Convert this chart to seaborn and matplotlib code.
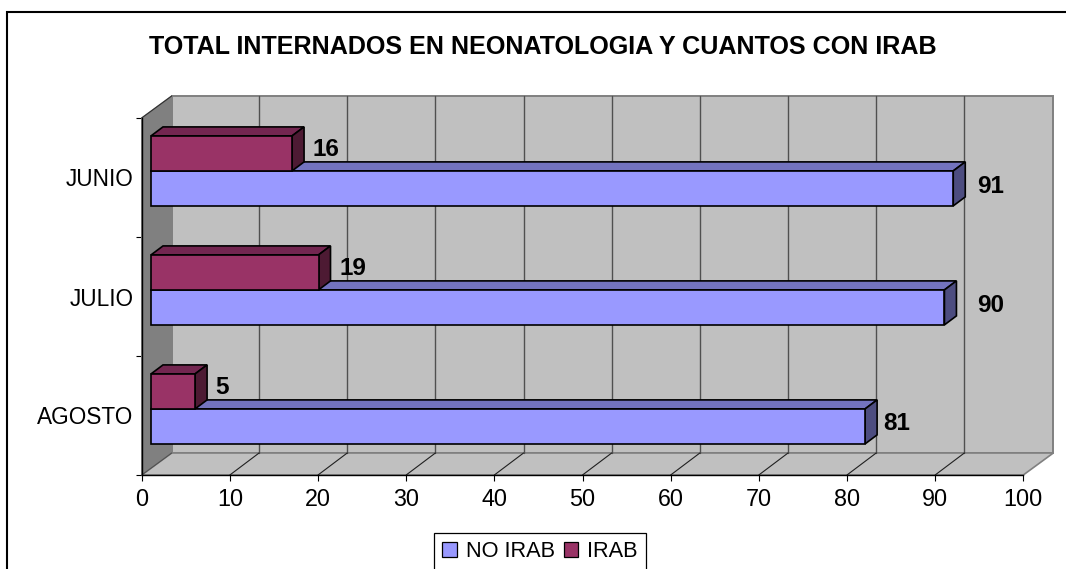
import matplotlib
matplotlib.use("Agg")
import matplotlib.pyplot as plt
from matplotlib.patches import Polygon, Patch, Rectangle
from matplotlib.transforms import Affine2D
import pandas as pd
import seaborn as sns

months = ["JUNIO", "JULIO", "AGOSTO"]
no_irab = [91, 90, 81]
irab = [16, 19, 5]
title = "TOTAL INTERNADOS EN NEONATOLOGIA Y CUANTOS CON IRAB"

df = pd.DataFrame({
    "mes": months * 2,
    "serie": ["IRAB"] * 3 + ["NO IRAB"] * 3,
    "valor": irab + no_irab,
})

W, H = 1066, 569
sns.set_theme(style="white")
plt.rcParams["font.family"] = ["Liberation Sans", "DejaVu Sans"]
FS = 15.7
TICK_FS = 16.8
YTICK_FS = 16.3
VAL_FS = 17.5

fig = plt.figure(figsize=(W / 100, H / 100), dpi=100, facecolor="white")
L, R, T, B = 141.7, 1023.3, 118, 475
ax = fig.add_axes([L / W, 1 - B / H, (R - L) / W, (B - T) / H])
colors = {"NO IRAB": "#9999FF", "IRAB": "#993366"}
top_c = {"NO IRAB": "#7373BF", "IRAB": "#732650"}
side_c = {"NO IRAB": "#4D4D80", "IRAB": "#4D1A33"}

sns.barplot(data=df, y="mes", x="valor", hue="serie", order=months,
            hue_order=["IRAB", "NO IRAB"], palette=colors, width=0.588,
            saturation=1, legend=False, ax=ax, edgecolor="black", linewidth=1.2)
ax.set_xlim(0, 100)
ax.set_ylim(2.5, -0.5)
ax.patch.set_visible(False)
ax.set_xlabel("")
ax.set_ylabel("")

# pixel -> data scale for the oblique projection
ux = (R - L) / 100
uy = (B - T) / 3
DX, DY = 30 / ux, 22 / uy          # full depth of the box
GX = 29.2 / ux                     # gridline depth
SX, SY = 9.3 / ux, 6.6 / uy        # bar front plane inside the box
BX, BY = 12 / ux, 9 / uy           # bar depth

x0, x1 = 0, 100
yb, yt = 2.5, -0.5

def poly(pts, fc, ec, z, lw=1.0):
    ax.add_patch(Polygon(pts, closed=True, facecolor=fc, edgecolor=ec, lw=lw,
                         zorder=z, clip_on=False))

# walls and floor
poly([(x0 + DX, yt - DY), (x1 + DX, yt - DY), (x1 + DX, yb - DY), (x0 + DX, yb - DY)],
     "#C0C0C0", "#808080", 0.5, 1.4)
poly([(x0, yt), (x0 + DX, yt - DY), (x0 + DX, yb - DY), (x0, yb)], "#808080", "#808080", 0.6)
poly([(x0, yb), (x0 + DX, yb - DY), (x1 + DX, yb - DY), (x1, yb)], "#C0C0C0", "#808080", 0.6, 1.2)
ax.plot([x0, x0 + DX], [yt, yt - DY], color="#303030", lw=0.8, zorder=0.8, clip_on=False)
ax.plot([x0, x0 + DX], [yb, yb - DY], color="#505050", lw=0.8, zorder=0.8, clip_on=False)

ticks = list(range(0, 101, 10))
for t in ticks[1:-1]:
    ax.plot([t + GX, t + GX], [yb - DY, yt - DY], color="#505050", lw=1.0, zorder=0.7, clip_on=False)
    ax.plot([t, t + GX], [yb, yb - DY], color="#202020", lw=0.8, zorder=0.7, clip_on=False)

# bars: shift the seaborn rectangles and add their top and side faces
shift = Affine2D().translate(SX, -SY) + ax.transData
hue_names = ["IRAB", "NO IRAB"]
offsets = {  # label offsets in pixels from the bar's front end
    ("IRAB", 0): (20, 6), ("IRAB", 1): (21, 6), ("IRAB", 2): (20, 6),
    ("NO IRAB", 0): (24, 4), ("NO IRAB", 1): (33, 4), ("NO IRAB", 2): (18, 5),
}
for name, cont in zip(hue_names, ax.containers):
    base = 4 if name == "NO IRAB" else 6
    for i, rect in enumerate(cont):
        rect.set_transform(shift)
        rect.set_zorder(base)
        rect.set_clip_on(False)
        v = rect.get_width()
        y0, y1 = rect.get_y(), rect.get_y() + rect.get_height()
        ax0, ax1 = SX, v + SX
        ay0, ay1 = y0 - SY, y1 - SY
        poly([(ax0, ay0), (ax1, ay0), (ax1 + BX, ay0 - BY), (ax0 + BX, ay0 - BY)],
             top_c[name], "black", base - 0.5, 1.2)
        poly([(ax1, ay0), (ax1 + BX, ay0 - BY), (ax1 + BX, ay1 - BY), (ax1, ay1)],
             side_c[name], "black", base - 0.5, 1.2)
        ox, oy = offsets[(name, i)]
        ax.annotate(f"{int(v)}", xy=(ax1, (ay0 + ay1) / 2), xytext=(ox, oy),
                    textcoords="offset pixels", ha="left", va="center_baseline",
                    fontsize=VAL_FS, fontweight="bold", color="black", zorder=10,
                    annotation_clip=False)

# axes
for s in ("top", "right"):
    ax.spines[s].set_visible(False)
for s in ("left", "bottom"):
    ax.spines[s].set_visible(True)
    ax.spines[s].set_color("black")
    ax.spines[s].set_linewidth(1.0)
    ax.spines[s].set_zorder(1)
ax.set_xticks(ticks)
ax.set_xticklabels([str(t) for t in ticks])
ax.set_yticks(range(3))
ax.set_yticklabels(months, va="center_baseline")
ax.set_yticks([-0.5, 0.5, 1.5, 2.5], minor=True)
ax.tick_params(axis="x", length=4, width=0.8, color="black", labelsize=TICK_FS, pad=5, bottom=True)
ax.tick_params(axis="y", which="major", length=0, labelsize=YTICK_FS, pad=6, labelcolor="black")
ax.tick_params(axis="y", which="minor", length=4, width=0.8, color="black", left=True)
ax.tick_params(axis="x", labelcolor="black")

fig.text(543 / W, 1 - 47 / H, title, fontsize=18.1, fontweight="bold", color="black",
         ha="center", va="center")

# chart frame, cut by the edges of the picture
fig.add_artist(Rectangle((7 / W, -0.1), 1.2, 1.1 - 12 / H,
                         transform=fig.transFigure, fill=False, ec="black", lw=1.5))

handles = [Patch(facecolor=colors[k], edgecolor="black", lw=0.9) for k in ("NO IRAB", "IRAB")]
leg = fig.legend(handles, ["NO IRAB", "IRAB"], loc="upper left", ncol=2,
                 bbox_to_anchor=(434 / W, 1 - 533 / H), borderaxespad=0,
                 fontsize=FS, frameon=True, fancybox=False, edgecolor="black",
                 framealpha=1, handlelength=0.67, handleheight=0.65, handletextpad=0.42,
                 columnspacing=0.4, borderpad=0.37, labelcolor="black")
leg.get_frame().set_linewidth(0.9)

fig.savefig("out.png", dpi=100, facecolor="white")
